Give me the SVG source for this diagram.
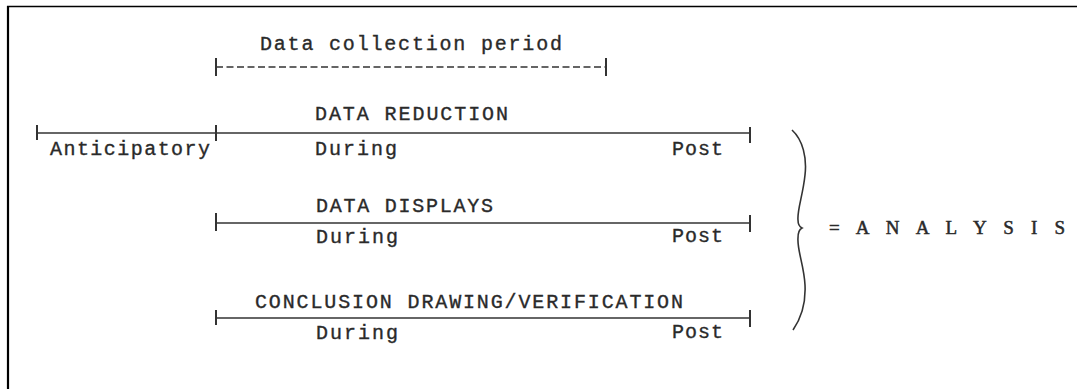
<svg xmlns="http://www.w3.org/2000/svg" width="1077" height="389" viewBox="0 0 1077 389">
<style>
.t{font-family:"Liberation Mono","Courier New",monospace;font-size:20px;fill:#2a2a2a;stroke:#2a2a2a;stroke-width:0.35}
.s{font-family:"Liberation Serif","Times New Roman",serif;font-size:19px;fill:#2a2a2a;stroke:#2a2a2a;stroke-width:0.5}
.ln{stroke:#333;stroke-width:1.6;fill:none}
.tk{stroke:#333;stroke-width:2;fill:none}
</style>
<rect width="1077" height="389" fill="#fff"/>
<g id="frame">
<line x1="7" y1="6.5" x2="1077" y2="6.5" stroke="#000" stroke-width="1.5"/>
<line x1="8" y1="6" x2="8" y2="389" stroke="#000" stroke-width="2.2"/>
</g>
<g id="collection">
<text class="t" x="260" y="50" textLength="302" lengthAdjust="spacing">Data collection period</text>
<line class="ln" x1="216" y1="67" x2="606" y2="67" stroke-dasharray="7,3.5"/>
<line class="tk" x1="216" y1="58" x2="216" y2="76"/>
<line class="tk" x1="606" y1="58" x2="606" y2="76"/>
</g>
<g id="reduction">
<text class="t" x="315" y="120" textLength="193" lengthAdjust="spacing">DATA REDUCTION</text>
<line class="ln" x1="37" y1="133" x2="750" y2="133"/>
<line class="tk" x1="37" y1="125" x2="37" y2="140"/>
<line class="tk" x1="216" y1="125" x2="216" y2="141"/>
<line class="tk" x1="750" y1="127" x2="750" y2="143"/>
<text class="t" x="50" y="155" textLength="160" lengthAdjust="spacing">Anticipatory</text>
<text class="t" x="315" y="155" textLength="82" lengthAdjust="spacing">During</text>
<text class="t" x="672" y="155" textLength="51" lengthAdjust="spacing">Post</text>
</g>
<g id="displays">
<text class="t" x="316" y="212" textLength="177" lengthAdjust="spacing">DATA DISPLAYS</text>
<line class="ln" x1="216" y1="223" x2="750" y2="223"/>
<line class="tk" x1="216" y1="213" x2="216" y2="231"/>
<line class="tk" x1="750" y1="215" x2="750" y2="232"/>
<text class="t" x="316" y="243" textLength="82" lengthAdjust="spacing">During</text>
<text class="t" x="672" y="242" textLength="51" lengthAdjust="spacing">Post</text>
</g>
<g id="conclusion">
<text class="t" x="255" y="308" textLength="428" lengthAdjust="spacing">CONCLUSION DRAWING/VERIFICATION</text>
<line class="ln" x1="216" y1="318" x2="750" y2="318"/>
<line class="tk" x1="216" y1="310" x2="216" y2="325"/>
<line class="tk" x1="750" y1="310" x2="750" y2="327"/>
<text class="t" x="316" y="339" textLength="82" lengthAdjust="spacing">During</text>
<text class="t" x="672" y="338" textLength="51" lengthAdjust="spacing">Post</text>
</g>
<g id="brace">
<path class="ln" stroke-width="2" d="M792,130 C803,140 807,158 805,175 C803,195 797,210 798,220 C798,225 800,227 802,228 C800,229 798,232 798,238 C797,250 804,265 805,285 C806,305 800,320 793,330"/>
</g>
<g id="analysis">
<text class="s" x="829" y="234" textLength="236" lengthAdjust="spacing">= A N A L Y S I S</text>
</g>
</svg>
